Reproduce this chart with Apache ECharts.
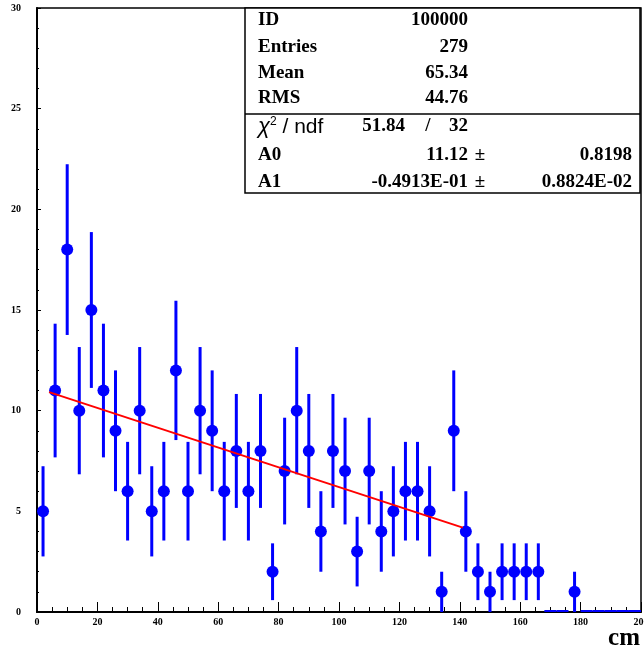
<!DOCTYPE html>
<html>
<head>
<meta charset="utf-8">
<script src="https://cdn.jsdelivr.net/npm/echarts@6/dist/echarts.min.js"></script>
<style>
html,body{margin:0;padding:0;background:#fff;}
#chart{width:644px;height:650px;}
</style>
</head>
<body>
<div id="chart"></div>
<script>
// Bin centers (cm) and counts
const binCenters = [2,6,10,14,18,22,26,30,34,38,42,46,50,54,58,62,66,70,74,78,82,86,90,94,98,102,106,110,114,118,122,126,130,134,138,142,146,150,154,158,162,166,170,174,178,182,186,190,194,198];
const counts     = [5,11,18,10,15,11,9,6,10,5,6,12,6,10,9,6,8,6,8,2,7,10,8,4,8,7,3,7,4,5,6,6,5,1,9,4,2,1,2,2,2,2,0,0,1,0,0,0,0,0];
const errors     = [2.24,3.32,4.24,3.16,3.87,3.32,3.0,2.45,3.16,2.24,2.45,3.46,2.45,3.16,3.0,2.45,2.83,2.45,2.83,1.41,2.65,3.16,2.83,2.0,2.83,2.65,1.73,2.65,2.0,2.24,2.45,2.45,2.24,1.0,3.0,2.0,1.41,1.0,1.41,1.41,1.41,1.41,0,0,1.0,0,0,0,0,0];
const binWidth = 4;
// Fitted straight line endpoints (A0 + A1*x over fit range)
const fitX = [4, 141];
const fitY = [10.92, 4.19];
// Axis ticks
const xTicks = [0,20,40,60,80,100,120,140,160,180,200];
const yTicks = [0,5,10,15,20,25,30];
// Stats box
const statLabels = ['ID','Entries','Mean','RMS'];
const statValues = ['100000','279','65.34','44.76'];
const chi2 = '51.84', ndf = '32';
const parNames = ['A0','A1'];
const parValues = ['11.12','-0.4913E-01'];
const parErrors = ['0.8198','0.8824E-02'];

const errData = binCenters.map((x,i)=>[x, counts[i], errors[i]]);
const markerData = binCenters.map((x,i)=>[x, counts[i]]).filter(d=>d[1] > 0);
const fitData = fitX.map((x,i)=>[x, fitY[i]]);

const serif = 'Liberation Serif';
const chart = echarts.init(document.getElementById('chart'));

function txt(x, y, text, align, font){
  return {type:'text', x:x, y:y, z:102,
    style:{text:text, font:font || ('bold 19px ' + serif), fill:'#000', align:align, verticalAlign:'middle',
           textAlign:align, textVerticalAlign:'middle'}};
}

const rowMid = [20, 47, 73, 98];
const graphics = [
  {type:'rect', shape:{x:245, y:8, width:395, height:185}, style:{fill:'#fff', stroke:'#000', lineWidth:1.5}, z:100},
  {type:'line', shape:{x1:245, y1:114, x2:640, y2:114}, style:{stroke:'#000', lineWidth:1.5}, z:101},
];
statLabels.forEach((l,i)=>{
  graphics.push(txt(258, rowMid[i], l, 'left'));
  graphics.push(txt(468, rowMid[i], statValues[i], 'right'));
});
// chi-square / ndf label with superscript 2
graphics.push({type:'text', x:258, y:127, z:102,
  style:{text:'{c|χ}{s|2}{n| / ndf}', align:'left', verticalAlign:'middle', fill:'#000',
    rich:{
      c:{fontFamily:'Liberation Sans', fontSize:22, fontStyle:'italic', fill:'#000', verticalAlign:'bottom'},
      s:{fontFamily:'Liberation Sans', fontSize:12, fill:'#000', verticalAlign:'top', padding:[0,0,0,0]},
      n:{fontFamily:'Liberation Sans', fontSize:21, fill:'#000', verticalAlign:'bottom'}
    }}});
graphics.push(txt(405, 126, chi2, 'right'));
graphics.push(txt(428, 126, '/', 'center'));
graphics.push(txt(468, 126, ndf, 'right'));
const parMid = [155, 182];
parNames.forEach((p,i)=>{
  graphics.push(txt(258, parMid[i], p, 'left'));
  graphics.push(txt(468, parMid[i], parValues[i], 'right'));
  graphics.push(txt(480, parMid[i], '±', 'center'));
  graphics.push(txt(632, parMid[i], parErrors[i], 'right'));
});
graphics.push(txt(640, 639, 'cm', 'right', 'bold 25px ' + serif));

chart.setOption({
  animation:false,
  backgroundColor:'#fff',
  grid:{left:37, top:8, right:3, bottom:38, outerBoundsMode:'none', containLabel:false,
        show:true, borderColor:'#000', borderWidth:1.5, backgroundColor:'transparent'},
  xAxis:{
    type:'value', min:xTicks[0], max:xTicks[xTicks.length-1], interval:20,
    axisLine:{show:true, onZero:false, lineStyle:{color:'#000', width:2}},
    axisTick:{show:true, inside:true, length:10, lineStyle:{color:'#000', width:1}},
    minorTick:{show:true, splitNumber:4, length:5, lineStyle:{color:'#000', width:1}},
    axisLabel:{show:true, margin:5, fontFamily:serif, fontWeight:'bold', fontSize:10, color:'#000', showMaxLabel:true, showMinLabel:true},
    splitLine:{show:false}
  },
  yAxis:{
    type:'value', min:yTicks[0], max:yTicks[yTicks.length-1], interval:5,
    axisLine:{show:true, onZero:false, lineStyle:{color:'#000', width:2}},
    axisTick:{show:true, inside:true, length:4, lineStyle:{color:'#000', width:1}},
    minorTick:{show:true, splitNumber:5, length:2, lineStyle:{color:'#000', width:1}},
    axisLabel:{show:true, margin:16, fontFamily:serif, fontWeight:'bold', fontSize:10, color:'#000'},
    splitLine:{show:false}
  },
  series:[
    {
      type:'custom', data:errData, z:3,
      renderItem:function(params, api){
        const x = api.value(0), y = api.value(1), e = api.value(2);
        if (y === 0) {
          const a = api.coord([x - binWidth/2, 0]);
          const b = api.coord([x + binWidth/2, 0]);
          return {type:'line', shape:{x1:a[0], y1:a[1]-1, x2:b[0], y2:b[1]-1}, style:{stroke:'#0000ff', lineWidth:2}};
        }
        const top = api.coord([x, y + e]);
        const bot = api.coord([x, Math.max(0, y - e)]);
        return {type:'line', shape:{x1:top[0], y1:top[1], x2:bot[0], y2:bot[1]}, style:{stroke:'#0000ff', lineWidth:3}};
      }
    },
    {
      type:'scatter', data:markerData, symbol:'circle', symbolSize:12, z:4,
      itemStyle:{color:'#0000ff', opacity:1}
    },
    {
      type:'line', data:fitData, showSymbol:false, symbol:'none', z:5,
      lineStyle:{color:'#ff0000', width:2}
    }
  ],
  graphic:graphics
});
</script>
</body>
</html>
